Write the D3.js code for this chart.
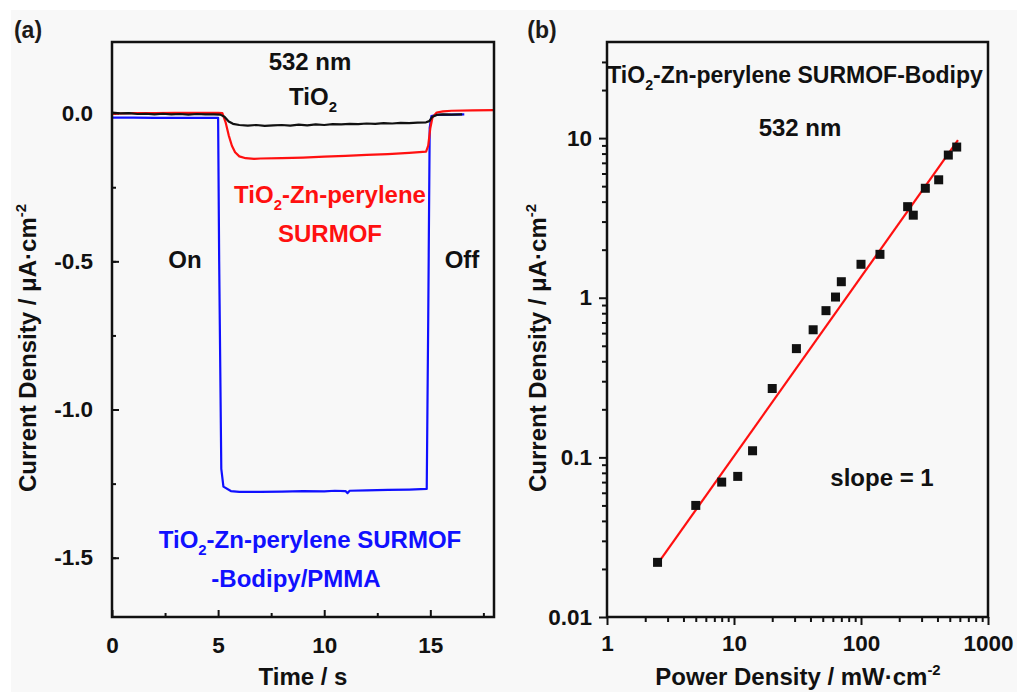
<!DOCTYPE html>
<html>
<head>
<meta charset="utf-8">
<script src="https://cdn.jsdelivr.net/npm/d3@7"></script>
<style>
  body { margin: 0; background: #fff; }
  svg { display: block; font-family: "Liberation Sans", Arial, sans-serif; }
</style>
</head>
<body>
<script>
// panel (a): photocurrent transients
blackT = [0,0.4,0.8,1.2,1.6,2.0,2.4,2.8,3.2,3.6,4.0,4.4,4.8,5.1,5.3,5.5,5.7,6.0,6.4,6.8,7.2,7.6,8.0,8.4,8.8,9.2,9.6,10.0,10.4,10.8,11.2,11.6,12.0,12.4,12.8,13.2,13.6,14.0,14.4,14.8,14.95,15.1,15.3,15.6,16.0,16.5];
blackV = [0.002,-0.001,0.000,-0.003,-0.002,-0.004,-0.002,-0.004,-0.003,-0.005,-0.003,-0.004,-0.004,-0.005,-0.012,-0.028,-0.036,-0.040,-0.042,-0.040,-0.043,-0.041,-0.040,-0.042,-0.039,-0.041,-0.038,-0.040,-0.037,-0.038,-0.036,-0.037,-0.035,-0.036,-0.034,-0.035,-0.033,-0.034,-0.032,-0.031,-0.027,-0.012,-0.006,-0.004,-0.005,-0.004];

redT = [0,1,2,3,4,5,5.2,5.35,5.5,5.65,5.8,6.0,6.3,6.7,7,8,9,10,11,12,13,14,14.8,14.9,15.0,15.1,15.3,15.6,16,17,18];
redV = [-0.002,0.000,0.000,0.001,0.001,0.001,0.0,-0.03,-0.075,-0.11,-0.132,-0.146,-0.152,-0.154,-0.153,-0.152,-0.150,-0.147,-0.144,-0.141,-0.138,-0.134,-0.13,-0.11,-0.05,-0.015,0.002,0.006,0.008,0.009,0.010];

blueT = [0,1,2,3,4,5.0,5.05,5.15,5.25,5.6,6,7,8,9,10,10.5,11,11.1,11.2,12,13,14,14.83,14.9,14.97,15.05,15.3,16,16.6];
blueV = [-0.015,-0.015,-0.016,-0.016,-0.016,-0.016,-0.5,-1.2,-1.26,-1.275,-1.278,-1.278,-1.277,-1.275,-1.276,-1.274,-1.275,-1.282,-1.274,-1.273,-1.271,-1.270,-1.268,-0.7,-0.05,-0.010,-0.006,-0.005,-0.004];

timeTicks = [0, 5, 10, 15];
currentTicks = [0.0, -0.5, -1.0, -1.5];

// panel (b): power dependence
powerX = [2.5, 5, 8, 10.7, 14, 20, 31, 42, 53, 63, 70, 100, 141, 233, 258, 321, 409, 487, 567];
currentY = [0.022, 0.05, 0.07, 0.076, 0.11, 0.27, 0.48, 0.63, 0.83, 1.01, 1.26, 1.62, 1.87, 3.72, 3.29, 4.85, 5.48, 7.83, 8.79];
fitX = [2.5, 580];
fitY = [0.0215, 9.7];
powerTicks = [1, 10, 100, 1000];
logCurrentTicks = [0.01, 0.1, 1, 10];

var W = 1017, H = 692;
var svg = d3.select('body').append('svg').attr('width', W).attr('height', H);

svg.append('rect').attr('x', 11).attr('y', 10).attr('width', W - 11).attr('height', H - 10).attr('fill', '#f8f8f8');

// text with sub/superscripts: parts = [[text, 'sub'|'sup'|null], ...]
function richText(g, x, y, parts, size, color, anchor, weight) {
    var t = g.append('text')
        .attr('x', x).attr('y', y)
        .attr('font-size', size)
        .attr('font-weight', weight || 'bold')
        .attr('fill', color || '#111')
        .attr('text-anchor', anchor || 'middle');
    var shift = 0;
    parts.forEach(function(p) {
        var s = t.append('tspan').text(p[0]);
        var target = p[1] == 'sub' ? size * 0.3 : p[1] == 'sup' ? -size * 0.42 : 0;
        if (target != shift) s.attr('dy', target - shift);
        if (p[1]) s.attr('font-size', size * 0.62);
        shift = target;
    });
    return t;
}

function styleAxis(g) {
    g.select('.domain').remove();
    g.selectAll('.tick line').attr('stroke', '#111').attr('stroke-width', 2);
    g.selectAll('.tick text').attr('font-size', 22.5).attr('font-weight', 'bold').attr('fill', '#111')
        .attr('font-family', '"Liberation Sans", Arial, sans-serif');
}

// ---------- panel (a)
var ax = {l: 112, r: 494, t: 42, b: 617};
var xa = d3.scaleLinear([0, 18], [ax.l, ax.r]);
var ya = d3.scaleLinear([-1.7, 0.24], [ax.b, ax.t]);

var ga = svg.append('g');

ga.append('g').attr('transform', `translate(0,${ax.b})`)
    .call(d3.axisBottom(xa).tickValues(timeTicks).tickSize(-7).tickPadding(20).tickFormat(d3.format('d')))
    .call(styleAxis);
ga.append('g').attr('transform', `translate(0,${ax.b})`)
    .call(d3.axisBottom(xa).tickValues([2.5, 7.5, 12.5, 17.5]).tickSize(-4).tickFormat(''))
    .call(styleAxis);
ga.append('g').attr('transform', `translate(${ax.l},0)`)
    .call(d3.axisLeft(ya).tickValues(currentTicks).tickSize(-7).tickPadding(19).tickFormat(d3.format('.1f')))
    .call(styleAxis);
ga.append('g').attr('transform', `translate(${ax.l},0)`)
    .call(d3.axisLeft(ya).tickValues([0.0, -0.25, -0.5, -0.75, -1.0, -1.25, -1.5]).tickSize(-4).tickFormat(''))
    .call(styleAxis);
ga.selectAll('.tick text').text(function() { return this.textContent.replace('−', '-'); });

var lineA = d3.line().x(d => xa(d[0])).y(d => ya(d[1]));
[[blueT, blueV, '#1010ff'], [redT, redV, '#ff1010'], [blackT, blackV, '#111']].forEach(function(s) {
    ga.append('path')
        .datum(d3.zip(s[0], s[1]))
        .attr('fill', 'none').attr('stroke', s[2]).attr('stroke-width', 2.2)
        .attr('stroke-linejoin', 'round')
        .attr('d', lineA);
});

ga.append('rect').attr('x', ax.l).attr('y', ax.t).attr('width', ax.r - ax.l).attr('height', ax.b - ax.t)
    .attr('fill', 'none').attr('stroke', '#111').attr('stroke-width', 2.5);

richText(ga, 310, 70, [['532 nm']], 24);
richText(ga, 313, 105, [['TiO'], ['2', 'sub']], 24);
richText(ga, 330, 203, [['TiO'], ['2', 'sub'], ['-Zn-perylene']], 24, '#ff1010');
richText(ga, 330, 242, [['SURMOF']], 24, '#ff1010');
richText(ga, 185, 268, [['On']], 24);
richText(ga, 462, 268, [['Off']], 24);
richText(ga, 310, 548, [['TiO'], ['2', 'sub'], ['-Zn-perylene SURMOF']], 24, '#1010ff');
richText(ga, 296, 587, [['-Bodipy/PMMA']], 24, '#1010ff');

richText(ga, 303, 685, [['Time / s']], 24);
richText(ga, 0, 0, [['Current Density / μA·cm'], ['-2', 'sup']], 24)
    .attr('transform', 'translate(36,348) rotate(-90)');
richText(ga, 28, 38, [['(a)']], 23, '#1c1a18');

// ---------- panel (b)
var bx = {l: 607, r: 988, t: 42, b: 617};
var xb = d3.scaleLog([1, 1000], [bx.l, bx.r]);
var yb = d3.scaleLog([0.01, 40], [bx.b, bx.t]);

function minorLog(lo, hi) {
    var out = [];
    for (var e = Math.floor(Math.log10(lo)); e < Math.ceil(Math.log10(hi)); e++) {
        for (var m = 2; m <= 9; m++) {
            var v = m * Math.pow(10, e);
            if (v > lo && v < hi) out.push(v);
        }
    }
    return out;
}

var gb = svg.append('g');
gb.append('g').attr('transform', `translate(0,${bx.b})`)
    .call(d3.axisBottom(xb).tickValues(powerTicks).tickSize(8).tickPadding(10).tickFormat(d3.format('d')))
    .call(styleAxis);
gb.append('g').attr('transform', `translate(0,${bx.b})`)
    .call(d3.axisBottom(xb).tickValues(minorLog(1, 1000)).tickSize(5).tickFormat(''))
    .call(styleAxis);
gb.append('g').attr('transform', `translate(${bx.l},0)`)
    .call(d3.axisLeft(yb).tickValues(logCurrentTicks).tickSize(8).tickPadding(7).tickFormat(d => String(d)))
    .call(styleAxis);
gb.append('g').attr('transform', `translate(${bx.l},0)`)
    .call(d3.axisLeft(yb).tickValues(minorLog(0.01, 40)).tickSize(5).tickFormat(''))
    .call(styleAxis);

gb.append('path')
    .datum(d3.zip(fitX, fitY))
    .attr('fill', 'none').attr('stroke', '#ff1010').attr('stroke-width', 2.2)
    .attr('d', d3.line().x(d => xb(d[0])).y(d => yb(d[1])));

gb.selectAll('rect.pt')
    .data(d3.zip(powerX, currentY))
    .join('rect')
    .attr('class', 'pt')
    .attr('x', d => xb(d[0]) - 4.5).attr('y', d => yb(d[1]) - 4.5)
    .attr('width', 9).attr('height', 9)
    .attr('fill', '#111');

gb.append('rect').attr('x', bx.l).attr('y', bx.t).attr('width', bx.r - bx.l).attr('height', bx.b - bx.t)
    .attr('fill', 'none').attr('stroke', '#111').attr('stroke-width', 2.5);

richText(gb, 795, 83, [['TiO'], ['2', 'sub'], ['-Zn-perylene SURMOF-Bodipy']], 23);
richText(gb, 800, 136, [['532 nm']], 24);
richText(gb, 882, 486, [['slope = 1']], 24);

richText(gb, 798, 685, [['Power Density / mW·cm'], ['-2', 'sup']], 24);
richText(gb, 0, 0, [['Current Density / μA·cm'], ['-2', 'sup']], 24)
    .attr('transform', 'translate(546,348) rotate(-90)');
richText(gb, 542, 38, [['(b)']], 23, '#1c1a18');
</script>
</body>
</html>
